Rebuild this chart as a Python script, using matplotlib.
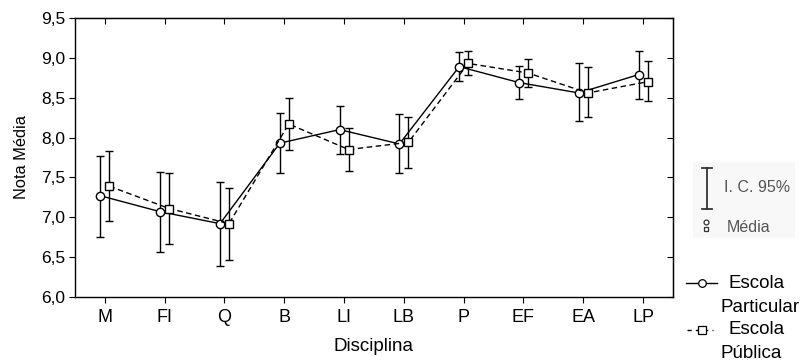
import matplotlib
matplotlib.use("Agg")
import matplotlib.pyplot as plt
from matplotlib.ticker import FuncFormatter, FixedLocator
from matplotlib.lines import Line2D
import numpy as np

plt.rcParams['font.family'] = ['Liberation Sans', 'DejaVu Sans']

categories = ["M", "FI", "Q", "B", "LI", "LB", "P", "EF", "EA", "LP"]

particular_mean = [7.27, 7.07, 6.92, 7.93, 8.10, 7.92, 8.89, 8.69, 8.56, 8.79]
particular_hi = [7.77, 7.57, 7.44, 8.31, 8.40, 8.29, 9.07, 8.90, 8.93, 9.08]
particular_lo = [6.75, 6.56, 6.39, 7.55, 7.79, 7.56, 8.71, 8.48, 8.21, 8.49]

publica_mean = [7.39, 7.11, 6.92, 8.17, 7.85, 7.94, 8.93, 8.81, 8.56, 8.70]
publica_hi = [7.83, 7.55, 7.37, 8.50, 8.12, 8.26, 9.09, 8.99, 8.88, 8.96]
publica_lo = [6.95, 6.67, 6.46, 7.85, 7.58, 7.62, 8.78, 8.63, 8.26, 8.46]

y_ticks = [6.0, 6.5, 7.0, 7.5, 8.0, 8.5, 9.0, 9.5]

W, H = 804, 360
def fx(px):
    return px / W
def fy(py):
    return 1 - py / H

fig = plt.figure(figsize=(8.04, 3.6), dpi=100)
ax = fig.add_axes([fx(75), fy(297), (673 - 75) / W, (297 - 18) / H])

x = np.arange(len(categories))
off = 0.075

pm = np.array(particular_mean)
ax.errorbar(x - off, pm,
            yerr=[pm - np.array(particular_lo), np.array(particular_hi) - pm],
            fmt='-o', color='black', lw=1.0, elinewidth=1.0, capsize=3,
            markersize=6, markerfacecolor='white', markeredgecolor='black',
            markeredgewidth=1.0, zorder=3)
qm = np.array(publica_mean)
ax.errorbar(x + off, qm,
            yerr=[qm - np.array(publica_lo), np.array(publica_hi) - qm],
            fmt='--s', color='black', lw=1.0, elinewidth=1.0, capsize=3,
            markersize=6, markerfacecolor='white', markeredgecolor='black',
            markeredgewidth=1.0, dashes=(4, 2.5), zorder=3)

ax.set_xlim(-0.5, len(categories) - 0.5)
ax.set_ylim(6.0, 9.5)
ax.set_xticks(x)
ax.set_xticklabels(categories, fontsize=13)
ax.set_yticks(y_ticks)
ax.yaxis.set_major_formatter(FuncFormatter(lambda v, p: f"{v:.1f}".replace('.', ',')))
ax.tick_params(axis='y', labelsize=12.5, direction='out', length=4, pad=3)
ax.tick_params(axis='x', direction='out', length=4, pad=5)
for s in ax.spines.values():
    s.set_linewidth(1.0)

sx = ax.secondary_xaxis('top')
sx.xaxis.set_major_locator(FixedLocator(list(x)))
sx.tick_params(direction='in', length=4, labeltop=False)
sy = ax.secondary_yaxis('right')
sy.yaxis.set_major_locator(FixedLocator(y_ticks))
sy.tick_params(direction='in', length=4, labelright=False)

ax.set_xlabel("Disciplina", fontsize=13.5, labelpad=8)
ax.set_ylabel("Nota Média", fontsize=11.8, labelpad=9)

# CI / mean key
fig.patches.append(plt.Rectangle((fx(693), fy(238)), 102 / W, 76 / H,
                                 transform=fig.transFigure, facecolor='#f8f8f8',
                                 edgecolor='none', zorder=0))
kc = '#333333'
fig.add_artist(Line2D([fx(707), fx(707)], [fy(168), fy(209)], color=kc, lw=1.3))
fig.add_artist(Line2D([fx(702), fx(712)], [fy(168), fy(168)], color=kc, lw=1.3))
fig.add_artist(Line2D([fx(702), fx(712)], [fy(209), fy(209)], color=kc, lw=1.3))
fig.text(fx(724), fy(188), "I. C. 95%", fontsize=11.5, color='#555555', va='center', ha='left')
fig.add_artist(Line2D([fx(706)], [fy(222)], marker='o', markersize=3.5, markerfacecolor='white',
                      markeredgecolor=kc, markeredgewidth=0.9, linestyle='none'))
fig.add_artist(Line2D([fx(706)], [fy(229)], marker='s', markersize=3.5, markerfacecolor='white',
                      markeredgecolor=kc, markeredgewidth=0.9, linestyle='none'))
fig.text(fx(727), fy(228), "Média", fontsize=11.5, color='#555555', va='center', ha='left')

# series key
fig.add_artist(Line2D([fx(686), fx(717)], [fy(283), fy(283)], color='black', lw=1.0))
fig.add_artist(Line2D([fx(702)], [fy(283)], marker='o', markersize=5.5, markerfacecolor='white',
                      markeredgecolor='black', markeredgewidth=0.9, linestyle='none'))
fig.text(fx(729), fy(283), "Escola", fontsize=13.5, va='center', ha='left')
fig.text(fx(721), fy(307), "Particular", fontsize=13.5, va='center', ha='left')

fig.add_artist(Line2D([fx(687), fx(713)], [fy(330), fy(330)], color='black', lw=1.0,
                      dashes=(3, 3)))
fig.add_artist(Line2D([fx(702)], [fy(330)], marker='s', markersize=5.5, markerfacecolor='white',
                      markeredgecolor='black', markeredgewidth=0.9, linestyle='none'))
fig.text(fx(729), fy(330), "Escola", fontsize=13.5, va='center', ha='left')
fig.text(fx(721), fy(353), "Pública", fontsize=13.5, va='center', ha='left')

fig.savefig("out.png", dpi=100)
